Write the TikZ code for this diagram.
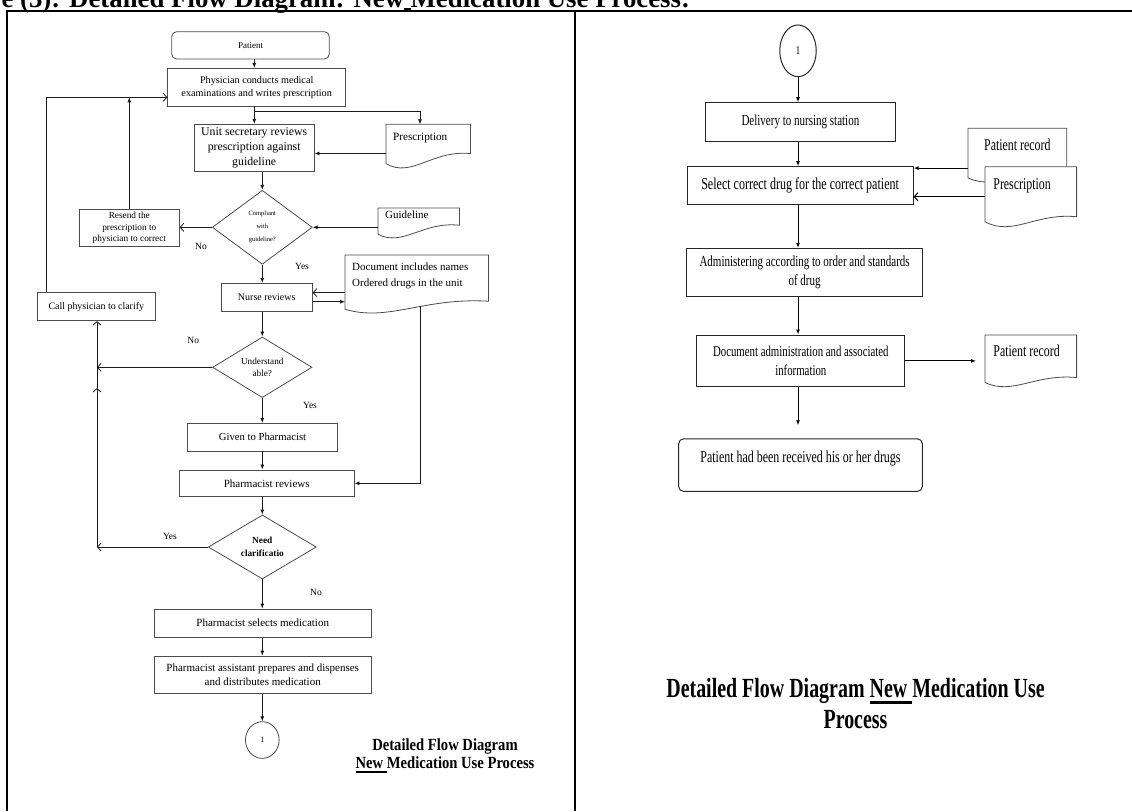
\documentclass[tikz,border=0pt]{standalone}
\usepackage{fontspec}
\setmainfont{Liberation Serif}
\newfontfamily\narrowfont[FakeStretch=0.72]{Liberation Serif}
\newfontfamily\capfont[FakeStretch=0.86]{Liberation Serif}
\usetikzlibrary{arrows.meta}
\usetikzlibrary{shapes.geometric}
\usetikzlibrary{calc}
\usetikzlibrary{backgrounds}
\newcommand{\fsz}[2]{\fontsize{#1}{#2}\selectfont}
\newcommand{\ulword}[3]{\setbox0\hbox{#3}\rlap{\rule[-#1]{\wd0}{#2}}\box0}
\newcommand{\docframe}[3]{%
  \filldraw[boxline,fill=white] (#1.north west) -- (#1.north east)
    -- ([yshift=#3]#1.south east)
    .. controls ($(#1.south west)!0.55!(#1.south east)+(0,#3+4pt)$)
    and ($(#1.south west)!0.3!(#1.south east)+(0,-10pt)$)
    .. ([yshift=#2]#1.south west) -- cycle;}

\begin{document}
\begin{tikzpicture}[x=1pt, y=-1pt,
    boxline/.style={draw=black!70, line width=0.8pt},
    procbox/.style={boxline, rectangle, inner sep=1pt, align=center},
    endbox/.style={procbox, rounded corners=5pt},
    decision/.style={boxline, diamond, inner sep=0pt, align=center},
    docnode/.style={rectangle, anchor=north west, align=flush left},
    answer/.style={font=\fsz{9.5}{11}},
    conn/.style={line width=0.8pt, black!90},
    farr/.style={conn, -{Latex[length=5pt,width=4pt]}},
    oarr/.style={conn, -{Straight Barb[length=3.5pt,width=8pt]}},
    tableline/.style={line width=2pt, black}]
    \useasboundingbox (0,0) rectangle (1132,811);
    \clip (0,0) rectangle (1132,811);

    % caption row and table lines
    \draw (-2,8) node[anchor=base west, font=\bfseries\fsz{26.8}{28}] (Head) {e (3): Detailed Flow Diagram: New\rule[-2pt]{6.5pt}{2.3pt}Medication Use Process:};
    \draw[tableline] (7,811) -- (7,11) -- (1132,11);
    \draw[tableline] (575,11) -- (575,811);

    \coordinate (colA) at (254.3,0);
    \coordinate (colB) at (262.3,0);
    \coordinate (colR) at (798,0);
    \coordinate (loopTop) at (46.7,97.3);
    \coordinate (vx) at (97,388);
    \coordinate (prx) at (420,0);

    % left part
    \draw (250.5,45.3) node[endbox, minimum width=157.6pt, minimum height=27.3pt, font=\fsz{9}{11}] (Pat) {Patient};
    \draw (256.7,87.2) node[procbox, minimum width=178pt, minimum height=37.7pt, font=\fsz{10.2}{13.3}] (Phys) {Physician conducts medical\\examinations and writes prescription};
    \draw (254.2,148) node[procbox, minimum width=119.7pt, minimum height=47.4pt, font=\fsz{11.8}{15}] (Unit) {Unit secretary reviews\\prescription against\\guideline};
    \draw (386,124.3) node[docnode, text width=70pt, inner xsep=7pt, inner ysep=9pt, text depth=18.5pt, font=\fsz{11.2}{13}] (PrescL) {Prescription};
    \draw (262.3,227.3) node[decision, minimum width=100pt, minimum height=74pt, font=\fsz{6.5}{13}] (Comp) {Compliant\\with\\guideline?};
    \draw (378,208) node[docnode, text width=67pt, inner xsep=7pt, inner ysep=3pt, text depth=15.2pt, font=\fsz{11}{13}] (GuideL) {Guideline};
    \draw (129.3,227.9) node[procbox, minimum width=100pt, minimum height=37.7pt, font=\fsz{9.3}{11.7}] (Resend) {Resend the\\prescription to\\physician to correct};
    \draw (201,246.7) node[answer] (NoA) {No};
    \draw (302,266) node[answer] (YesA) {Yes};
    \draw (266.7,297.5) node[procbox, minimum width=91.3pt, minimum height=28.4pt, font=\fsz{10}{12}] (Nurse) {Nurse reviews};
    \draw (345,255) node[docnode, text width=129pt, inner xsep=7pt, inner ysep=8pt, text depth=33.2pt, font=\fsz{11}{15.5}] (DocL) {Document includes names\\Ordered drugs in the unit};
    \draw (96.3,306.7) node[procbox, minimum width=117.3pt, minimum height=28pt, font=\fsz{9.9}{12}] (Call) {Call physician to clarify};
    \draw (262.3,367.3) node[decision, minimum width=99.4pt, minimum height=56pt, font=\fsz{9.2}{11.7}] (Und) {Understand\\able?};
    \draw (193.3,340.7) node[answer] (NoB) {No};
    \draw (310,405) node[answer] (YesB) {Yes};
    \draw (262.5,437.2) node[procbox, minimum width=149.6pt, minimum height=27.7pt, font=\fsz{10.7}{13}] (Given) {Given to Pharmacist};
    \draw (266.7,483.3) node[procbox, minimum width=174.7pt, minimum height=26.7pt, font=\fsz{11}{13}] (PhRev) {Pharmacist reviews};
    \draw (262.3,547) node[decision, minimum width=108pt, minimum height=64pt, font=\bfseries\fsz{9.3}{12.6}] (Need) {Need\\clarificatio};
    \draw (170,536.7) node[answer] (YesC) {Yes};
    \draw (316,592.7) node[answer] (NoC) {No};
    \draw (262.7,623.2) node[procbox, minimum width=216.7pt, minimum height=28.3pt, font=\fsz{11}{13}] (PhSel) {Pharmacist selects medication};
    \draw (262.7,674.7) node[procbox, minimum width=216.7pt, minimum height=37.3pt, font=\fsz{11}{14}] (PhAss) {Pharmacist assistant prepares and dispenses\\and distributes medication};
    \draw (262.3,740) node[ellipse, boxline, minimum width=33.7pt, minimum height=36.7pt, inner sep=0pt, font=\fsz{8}{10}] (OneL) {1};
    \draw (445,756) node[align=center, font=\capfont\bfseries\fsz{17}{17.6}] (CapL) {Detailed Flow Diagram\\\ulword{4.7pt}{2pt}{New\ }Medication Use Process};

    \draw[farr] (Pat.south -| colA) -- (Phys.north -| colA);
    \draw[farr] (Phys.south -| colA) -- (Unit.north -| colA);
    \draw[farr] (Phys.south -| colA) -- +(0,4.7) -| (PrescL.north -| prx);
    \draw[farr] ([yshift=-7pt]PrescL.west) -- ([yshift=-7pt]PrescL.west -| Unit.east);
    \draw[farr] (Unit.south -| colB) -- (Comp.north);
    \draw[farr] (GuideL.west |- Comp.east) -- (Comp.east);
    \draw[oarr] (Comp.west) -- (Comp.west -| Resend.east);
    \draw[farr] (Resend.north) -- (Resend.north |- loopTop);
    \draw[oarr] (Call.north -| loopTop) -- (loopTop) -- (loopTop -| Phys.west);
    \draw[farr] (Comp.south) -- (Nurse.north -| colB);
    \draw[oarr] ([yshift=4.8pt]Nurse.east -| DocL.west) -- ([yshift=4.8pt]Nurse.east);
    \draw[farr] ([yshift=-4.2pt]Nurse.east) -- ([yshift=-4.2pt]Nurse.east -| DocL.west);
    \draw[farr] ([yshift=6pt]DocL.south -| prx) |- (PhRev.east);
    \draw[farr] (Nurse.south -| colB) -- (Und.north);
    \draw[oarr] (Und.west) -- (Und.west -| vx);
    \draw[farr] (Und.south) -- (Given.north -| colB);
    \draw[farr] (Given.south -| colB) -- (PhRev.north -| colB);
    \draw[farr] (PhRev.south -| colB) -- (Need.north);
    \draw[oarr] (Need.west) -- (Need.west -| vx);
    \draw[oarr] (Need.west -| vx) -- (vx);
    \draw[oarr] (vx) -- (Call.south -| vx);
    \draw[farr] (Need.south) -- (PhSel.north -| colB);
    \draw[farr] (PhSel.south -| colB) -- (PhAss.north -| colB);
    \draw[farr] (PhAss.south -| colB) -- (OneL.north);

    % right part
    \begin{scope}[boxline/.style={draw=black!85, line width=1pt}, conn/.style={line width=1pt, black}]
    \draw (798,50.8) node[ellipse, boxline, minimum width=36.5pt, minimum height=51.7pt, inner sep=0pt, font=\narrowfont\fsz{12}{14}] (OneR) {1};
    \draw (800.4,122.2) node[procbox, minimum width=190.4pt, minimum height=39pt, font=\narrowfont\fsz{15.3}{18}] (Deliv) {Delivery to nursing station};
    \draw (800.1,185.8) node[procbox, minimum width=226.2pt, minimum height=38.3pt, font=\narrowfont\fsz{16.7}{19}] (Select) {Select correct drug for the correct patient};
    \draw (967.9,128.3) node[docnode, align=flush center, text width=84.5pt, inner xsep=7pt, inner ysep=10.4pt, text depth=20.9pt, font=\narrowfont\fsz{16.5}{19}] (PRecA) {Patient record};
    \draw (985,166.7) node[docnode, text width=74.8pt, inner xsep=8.2pt, inner ysep=11.5pt, text depth=25.7pt, font=\narrowfont\fsz{16.5}{19}] (PrescR) {Prescription};
    \draw (804.6,272.2) node[procbox, minimum width=235.3pt, minimum height=47.7pt, font=\narrowfont\fsz{15.3}{18.3}] (Admin) {Administering according to order and standards\\of drug};
    \draw (800.8,360.9) node[procbox, minimum width=208pt, minimum height=51.7pt, font=\narrowfont\fsz{15}{18.3}] (DocAdm) {Document administration and associated\\information};
    \draw (985,335) node[docnode, text width=74.8pt, inner xsep=8.2pt, inner ysep=9.7pt, text depth=19.3pt, font=\narrowfont\fsz{16.5}{19}] (PRecB) {Patient record};
    \draw (800.5,438.3) node[endbox, anchor=north, minimum width=243.7pt, inner ysep=11.9pt, text depth=17.3pt, font=\narrowfont\fsz{16.6}{19}] (Final) {Patient had been received his or her drugs};
    \draw (855.5,703.5) node[align=center, font=\narrowfont\bfseries\fsz{27.7}{31.7}] (CapR) {Detailed Flow Diagram \ulword{6.5pt}{2.3pt}{New\ }Medication Use\\Process};

    \draw[farr] (OneR.south) -- (Deliv.north -| colR);
    \draw[farr] (Deliv.south -| colR) -- (Select.north -| colR);
    \draw[farr] ([yshift=-13pt]PRecA.west) -- ([yshift=-13pt]PRecA.west -| Select.east);
    \draw[oarr] (PrescR.west) -- (PrescR.west -| Select.east);
    \draw[farr] (Select.south -| colR) -- (Admin.north -| colR);
    \draw[farr] (Admin.south -| colR) -- (DocAdm.north -| colR);
    \draw[farr] (DocAdm.east) -- ([xshift=-9pt]DocAdm.east -| PRecB.west);
    \draw[farr] (DocAdm.south -| colR) -- ([yshift=13pt]Final.north -| colR);
    \end{scope}

    % document outlines
    \begin{pgfonlayer}{background}
        \docframe{PrescL}{5pt}{15pt}
        \docframe{GuideL}{3pt}{12pt}
        \docframe{DocL}{3pt}{11pt}
        \docframe{PRecA}{4pt}{12pt}
        \docframe{PrescR}{5pt}{10pt}
        \docframe{PRecB}{3pt}{8pt}
    \end{pgfonlayer}
\end{tikzpicture}
\end{document}
